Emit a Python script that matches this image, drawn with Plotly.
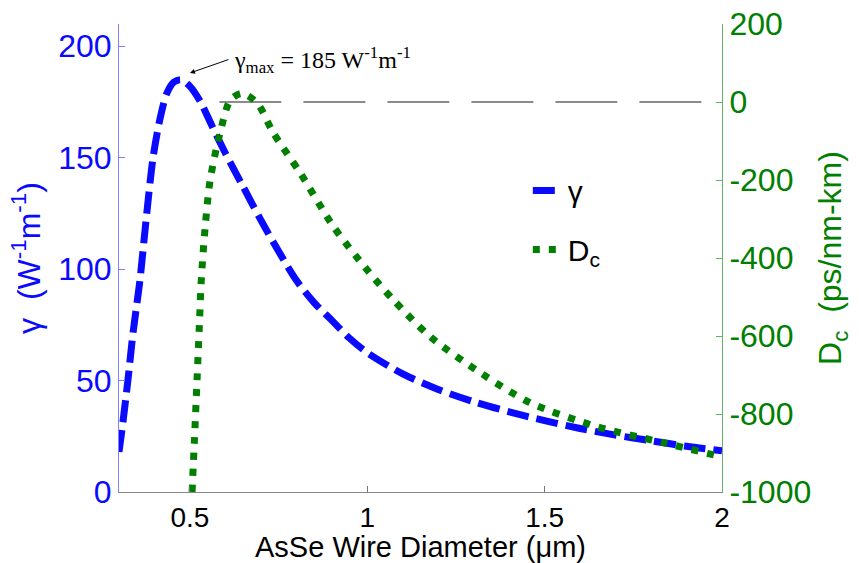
import plotly.graph_objects as go

# gamma (left axis)
gamma_x = [0.30, 0.31, 0.325, 0.34, 0.359, 0.375, 0.396, 0.415, 0.435, 0.455, 0.475, 0.50, 0.53, 0.56,
           0.60, 0.65, 0.70, 0.75, 0.80, 0.85, 0.90, 0.95, 1.0, 1.1, 1.2, 1.3, 1.4, 1.5, 1.6,
           1.7, 1.8, 1.9, 2.0]
gamma_y = [18, 30, 50, 72, 95, 120, 150, 167, 179, 184, 185, 182, 175, 165,
           152, 137, 122, 108, 95, 85, 77, 69, 62.5, 53, 46, 40.5, 36, 32, 28.5,
           25.5, 23, 20.5, 18.5]

# Dc (right axis)
dc_x = [0.506, 0.513, 0.520, 0.526, 0.532, 0.543, 0.557, 0.585, 0.614, 0.647, 0.690, 0.735, 0.811,
        0.905, 1.0, 1.074, 1.179, 1.320, 1.461, 1.650, 1.837, 2.0]
dc_y = [-1000, -860, -713, -585, -456, -320, -200, -79, 5, 22, -3, -79, -182,
        -320, -431, -508, -603, -695, -772, -833, -874, -910]

zero_x = [0.583, 2.0]
zero_y = [0, 0]

x_ticks = [0.5, 1, 1.5, 2]
x_tick_labels = ["0.5", "1", "1.5", "2"]
left_ticks = [0, 50, 100, 150, 200]
right_ticks = [-1000, -800, -600, -400, -200, 0, 200]
right_tick_labels = ["-1000", "-800", "-600", "-400", "-200", "0", "200"]

BLUE = "#0a0aff"
GREEN = "#007f00"
FONT = "Liberation Sans, Arial, sans-serif"
FS = 32

fig = go.Figure()
fig.add_trace(go.Scatter(x=zero_x, y=zero_y, yaxis="y2", mode="lines", showlegend=False,
                         line=dict(color="#666666", width=1.3, dash="62px,22px"), hoverinfo="skip"))
fig.add_trace(go.Scatter(x=gamma_x, y=gamma_y, mode="lines", name="γ", legendgroup="a",
                         line=dict(color=BLUE, width=7, dash="22px,8px", shape="spline", smoothing=0.8)))
fig.add_trace(go.Scatter(x=dc_x, y=dc_y, yaxis="y2", mode="lines", name="D<sub>c</sub>", legendgroup="b",
                         line=dict(color=GREEN, width=7, dash="7px,9px", shape="spline", smoothing=0.8)))

fig.update_layout(
    width=859, height=563,
    margin=dict(l=119, r=137, t=24, b=71),
    paper_bgcolor="white", plot_bgcolor="white",
    font=dict(family=FONT, size=FS, color="black"),
    xaxis=dict(range=[0.3, 2], tickvals=x_ticks, ticktext=x_tick_labels, automargin=False,
               ticks="inside", ticklen=6, tickcolor="#777", showline=True, linecolor="#888",
               linewidth=1, showgrid=False, zeroline=False,
               title=dict(text="AsSe Wire Diameter (μm)", standoff=3, font=dict(size=29)),
               tickfont=dict(size=28, color="black")),
    yaxis=dict(range=[0, 210], tickvals=left_ticks, ticks="inside", ticklen=6, tickcolor="#7f7fff",
               showline=True, linecolor="#7f7fff", linewidth=1, showgrid=False, zeroline=False,
               automargin=False,
               tickfont=dict(size=FS, color=BLUE),
               title=dict(text="γ  (W<sup>-1</sup>m<sup>-1</sup>)", font=dict(size=FS, color=BLUE), standoff=8)),
    yaxis2=dict(range=[-1000, 200], tickvals=right_ticks, ticktext=right_tick_labels,
                overlaying="y", side="right", automargin=False,
                ticks="inside", ticklen=6, tickcolor="#66b266", showline=True, linecolor="#66b266",
                linewidth=1, showgrid=False, zeroline=False,
                tickfont=dict(size=FS, color=GREEN),
                title=dict(text="D<sub>c</sub>  (ps/nm-km)", font=dict(size=FS, color=GREEN), standoff=8)),
    legend=dict(x=0.678, y=0.70, xanchor="left", yanchor="top", bgcolor="rgba(0,0,0,0)",
                font=dict(size=30, color="black"), traceorder="grouped", tracegroupgap=17),
    showlegend=True,
)

fig.add_annotation(x=0.50, y=188, xref="x", yref="y", ax=40, ay=-14, text="", showarrow=True,
                   arrowhead=2, arrowsize=1, arrowwidth=1, arrowcolor="black")
fig.add_annotation(x=0.619, y=194, xref="x", yref="y", xanchor="left", yanchor="middle",
                   text="γ<sub>max</sub> = 185 W<sup>-1</sup>m<sup>-1</sup>", showarrow=False,
                   font=dict(family="Liberation Serif, Times New Roman, serif", size=24, color="black"))

fig.write_html("out.html")
